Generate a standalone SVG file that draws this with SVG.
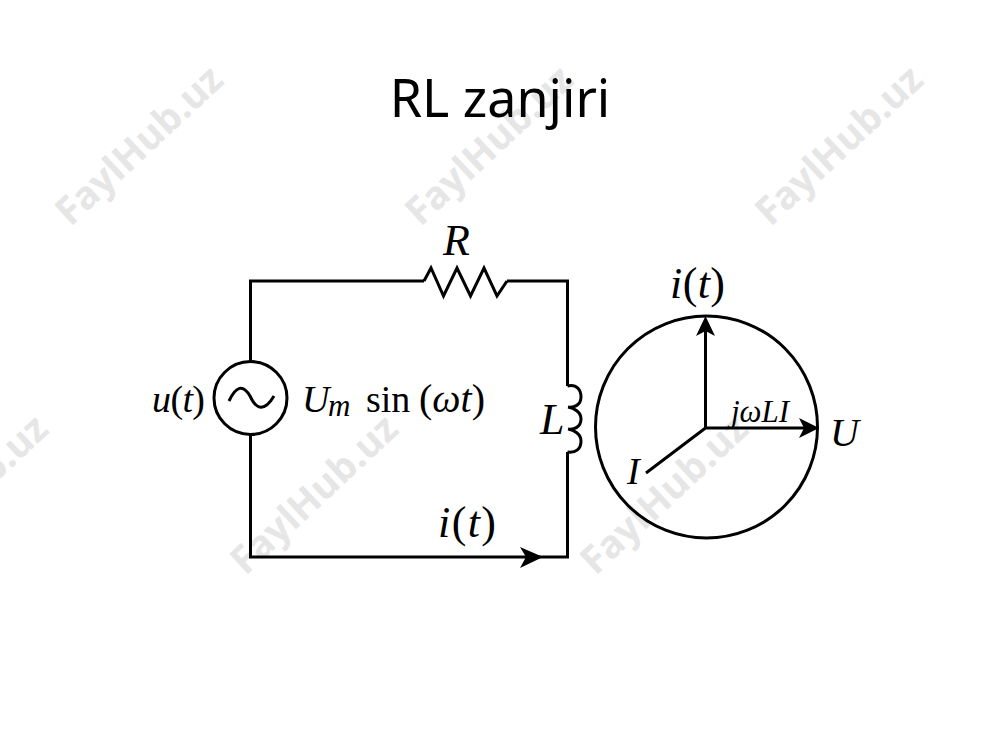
<svg xmlns="http://www.w3.org/2000/svg" width="1000" height="750" viewBox="0 0 1000 750">
<style>
.wm{font:bold 38.5px "Open Sans",sans-serif;fill:#e6e6e6;text-anchor:middle}
.title{font:52px "Noto Sans",sans-serif;fill:#000;text-anchor:middle}
.w{fill:none;stroke:#000;stroke-width:3;stroke-linejoin:miter}
.m{font:italic 38px "Liberation Serif",serif;fill:#000}
.b{font-size:44px}
.p{font-size:40px}
.sub{font-size:31px}
.r{font-style:normal}
.ah{fill:#000}
</style>
<rect width="1000" height="750" fill="#fff"/>
<g id="watermarks">
<text class="wm" transform="translate(148 155) rotate(-43)">FaylHub.uz</text>
<text class="wm" transform="translate(498 155) rotate(-43)">FaylHub.uz</text>
<text class="wm" transform="translate(848 155) rotate(-43)">FaylHub.uz</text>
<text class="wm" transform="translate(-27 504) rotate(-43)">FaylHub.uz</text>
<text class="wm" transform="translate(323 504) rotate(-43)">FaylHub.uz</text>
<text class="wm" transform="translate(673 504) rotate(-43)">FaylHub.uz</text>
</g>
<text id="title" class="title" x="500" y="117">RL zanjiri</text>
<g id="connectors">
<path class="w" d="M250.500 361V281H424M507 281H567.500V386M567.500 452V557H250.500V435"/>
<path class="w" d="M705.500 428V330M705.500 428H805M705.500 428L646 473"/>
</g>
<g id="resistor">
<path class="w" d="M424 281L431 268L443.500 296L457 268L470.500 296L484 268L497 296L507 281"/>
<text class="m b" x="443" y="255">R</text>
</g>
<g id="inductor">
<path class="w" d="M567.500 386C577 384 581 390 581 397C581 405 574 408 568 407C574 408 581 412 581 419C581 427 574 430 568 429C574 430 581 434 581 441C581 449 576 453 567.500 452"/>
<text class="m b" x="540" y="434">L</text>
</g>
<g id="source">
<circle class="w" cx="250.500" cy="398" r="36.500"/>
<path class="w" d="M229 401C236 386 243 384 250 396C257 411 265 411 274 396"/>
<text class="m" x="152" y="412" textLength="53">u<tspan class="r">(</tspan>t<tspan class="r">)</tspan></text>
<text class="m" x="302" y="412">U</text>
<text class="m sub" x="328" y="416">m</text>
<text class="m r" x="366" y="412">sin</text>
<text class="m p" x="419" y="412"><tspan class="r">(</tspan>ωt<tspan class="r">)</tspan></text>
</g>
<g id="current">
<path class="ah" d="M543 557L520 547L526 557L520 568Z"/>
<text class="m b" x="438" y="537" textLength="58">i<tspan class="r">(</tspan>t<tspan class="r">)</tspan></text>
</g>
<g id="phasor">
<circle class="w" cx="706.500" cy="427" r="111"/>
<path class="ah" d="M705.500 316L696 336L705.500 331L715 336Z"/>
<path class="ah" d="M819 428L799 418L804 428L799 438Z"/>
<text class="m b" x="670" y="298" textLength="55">i<tspan class="r">(</tspan>t<tspan class="r">)</tspan></text>
<text class="m p" x="830" y="446">U</text>
<text class="m" x="627" y="484">I</text>
<text class="m sub" x="731" y="422">jωLI</text>
</g>
</svg>
